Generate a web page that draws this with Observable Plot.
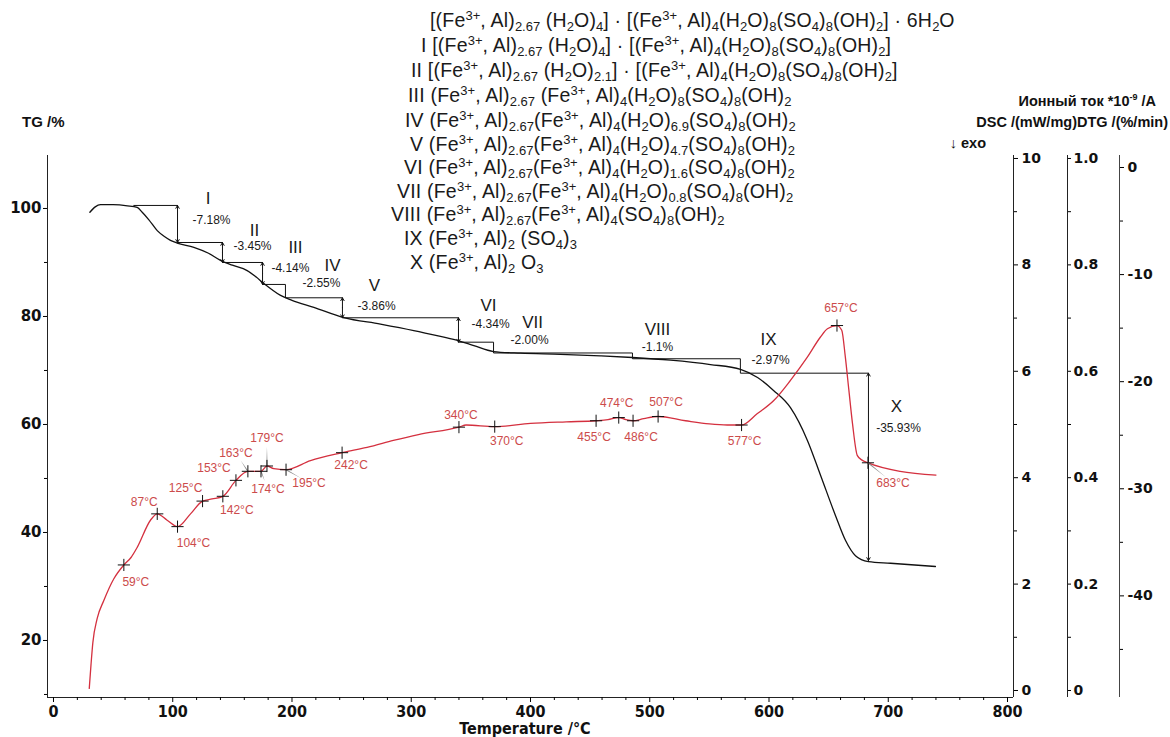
<!DOCTYPE html>
<html>
<head>
<meta charset="utf-8">
<script src="https://cdn.jsdelivr.net/npm/d3@7"></script>
<script src="https://cdn.jsdelivr.net/npm/@observablehq/plot@0.6"></script>
<style>
  body { margin: 0; background: #fff; }
  #wrap { position: relative; width: 1170px; height: 737px; overflow: hidden; font-family: "Liberation Sans", Arial, sans-serif; background:#fff; }
  #wrap svg { position: absolute; left: 0; top: 0; }
  .f { position: absolute; white-space: nowrap; font-size: 19.5px; letter-spacing: 0.2px; line-height: 22px; color: #1a1a1a; }
  .f sup, .f sub { font-size: 13px; letter-spacing: 0; line-height: 0; position: relative; vertical-align: baseline; }
  .f sup { top: -7px; }
  .f sub { top: 4px; }
  .t { position: absolute; white-space: nowrap; font-weight: bold; font-size: 14.5px; color: #111; line-height: 18px; }
  .t sup { font-size: 9px; position: relative; top: -6px; vertical-align: baseline; line-height: 0; }
</style>
</head>
<body>
<div id="wrap"></div>
<script>
// ---------------- data ----------------
// TG curve (Temperature °C, TG %)
const tgTemp = [30.5,35,39.4,50,62,70.2,74.4,80,87,93,98.1,103.7,117.7,130,140,150,162.4,170,176.4,183,190.4,200,218.3,243.4,274.2,302.1,324.5,340,352.5,369,391.6,425.2,458.7,485.5,517.4,550.9,576.1,590.4,603.8,618,632.3,643.2,655.8,664.2,672.5,683.4,701.9,739.6];
const tgValue = [99.3,100.3,100.7,100.7,100.5,100.2,99.3,97.9,95.9,94.8,94.1,93.6,92.8,91.7,90.4,89.5,88.5,87.3,86.1,85.0,83.9,83.0,81.7,79.8,78.6,77.4,76.3,75.5,74.6,73.5,73.2,73.0,72.7,72.4,71.9,71.1,70.2,68.7,66.3,63.1,57.0,50.6,43.1,38.5,35.7,34.6,34.3,33.7];

// DSC curve (Temperature °C, mW/mg)
const dscTemp = [30,31.5,33,36.6,42.2,50.6,59,65,70.2,81.3,87,95.3,104,114.9,125,133,142,153,163,174,179,184.7,195,215.5,242,251.8,263,285,306,340,346,370,400,430,455,465,474,480,486,495,507,530,550,565,577,590,604,618,632,643,649,657,661,664,667,670,674,678,683,710,740];
const dscValue = [0.004,0.050,0.090,0.135,0.169,0.210,0.236,0.250,0.269,0.320,0.332,0.320,0.308,0.332,0.356,0.360,0.365,0.395,0.412,0.412,0.422,0.417,0.415,0.432,0.447,0.452,0.457,0.470,0.481,0.495,0.499,0.496,0.502,0.505,0.507,0.509,0.513,0.509,0.507,0.511,0.515,0.507,0.501,0.499,0.499,0.520,0.545,0.583,0.626,0.664,0.680,0.686,0.677,0.627,0.564,0.502,0.442,0.433,0.428,0.412,0.405];

// DSC peak markers
const peakTemp  = [59,87,104,125,142,153,163,174,179,195,242,340,370,455,474,486,507,577,657,683];
const peakValue = [0.236,0.332,0.308,0.356,0.365,0.395,0.412,0.412,0.422,0.415,0.447,0.495,0.496,0.507,0.513,0.507,0.515,0.499,0.686,0.428];

// Mass-loss steps
const stepNames = ["I","II","III","IV","V","VI","VII","VIII","IX","X"];
const stepLoss  = ["-7.18%","-3.45%","-4.14%","-2.55%","-3.86%","-4.34%","-2.00%","-1.1%","-2.97%","-35.93%"];
const stepTemp  = [104,141.7,175.3,194.5,242.3,339.6,369,485.5,576,683.4];      // step boundary temperature
const stepLevel = [100.56,93.70,90.0,85.93,83.46,79.76,75.24,73.24,72.17,69.5,34.8]; // TG level before/after each step
const stepArrow = [true,true,true,false,true,true,false,false,false,true];
const firstLevelStart = 67;
// annotation anchors (data coordinates)
const nameTemp = [129.7,168.6,202.9,234,269.2,364.8,401.7,506.5,599.6,706.9];
const nameTG   = [101.8,95.9,92.8,89.4,85.7,82.0,78.9,77.6,75.7,63.3];
const lossTemp = [132.5,166.9,198.7,224.7,270.9,366.5,399.2,506.5,601.3,708.6];
const lossTG   = [97.9,93.1,88.9,86.1,82.0,78.5,75.6,74.3,72.0,59.4];

// Axis ticks
const xTicks = [0,100,200,300,400,500,600,700,800];
const xMinor = d3.range(0, 801, 20).filter(d => d % 100 !== 0);
const tgTicks = [20,40,60,80,100];
const tgMinor = [10,30,50,70,90];
const ionTicks = [0,2,4,6,8,10];
const ionMinor = [1,3,5,7,9];
const dscTicks = [0,0.2,0.4,0.6,0.8,1.0];
const dscMinor = [0.1,0.3,0.5,0.7,0.9];
const dtgTicks = [0,-10,-20,-30,-40];
const dtgMinor = [-5,-15,-25,-35,-45];

// Phase formulas (^{} superscript, _{} subscript)
const phaseFormulas = [
  "[(Fe^{3+}, Al)_{2.67} (H_{2}O)_{4}] · [(Fe^{3+}, Al)_{4}(H_{2}O)_{8}(SO_{4})_{8}(OH)_{2}] · 6H_{2}O",
  "I [(Fe^{3+}, Al)_{2.67} (H_{2}O)_{4}] · [(Fe^{3+}, Al)_{4}(H_{2}O)_{8}(SO_{4})_{8}(OH)_{2}]",
  "II [(Fe^{3+}, Al)_{2.67} (H_{2}O)_{2.1}] · [(Fe^{3+}, Al)_{4}(H_{2}O)_{8}(SO_{4})_{8}(OH)_{2}]",
  "III (Fe^{3+}, Al)_{2.67} (Fe^{3+}, Al)_{4}(H_{2}O)_{8}(SO_{4})_{8}(OH)_{2}",
  "IV (Fe^{3+}, Al)_{2.67}(Fe^{3+}, Al)_{4}(H_{2}O)_{6.9}(SO_{4})_{8}(OH)_{2}",
  "V (Fe^{3+}, Al)_{2.67}(Fe^{3+}, Al)_{4}(H_{2}O)_{4.7}(SO_{4})_{8}(OH)_{2}",
  "VI (Fe^{3+}, Al)_{2.67}(Fe^{3+}, Al)_{4}(H_{2}O)_{1.6}(SO_{4})_{8}(OH)_{2}",
  "VII (Fe^{3+}, Al)_{2.67}(Fe^{3+}, Al)_{4}(H_{2}O)_{0.8}(SO_{4})_{8}(OH)_{2}",
  "VIII (Fe^{3+}, Al)_{2.67}(Fe^{3+}, Al)_{4}(SO_{4})_{8}(OH)_{2}",
  "IX (Fe^{3+}, Al)_{2} (SO_{4})_{3}",
  "X (Fe^{3+}, Al)_{2} O_{3}"
];

// ---------------- layout ----------------
const W = 1170, H = 737;
const M = {top: 155, right: 157, bottom: 40, left: 47};
const xDom = [-5.03, 805.03];
const tgDom = [9.44, 109.81];
const ionDom = [-0.1316, 10.056];
const dscDom = [-0.01316, 1.0056];
const dtgDom = [-49.49, 1.12];
const dscAxisShift = 54, dtgAxisShift = 106;
const formulaLeft = [430,421,411,408,405,410,404,397,391,404,410];
const formulaMid  = [20,45,70,95,120,144,167,191,214,238,262];
const peakOffsets = [[12,17],[-13,-12],[16,17],[-17,-13],[14,14],[-22,-12],[-12,-18],[7,18],[0,-28],[23,13],[9,12],[2,-12],[12,15],[-2,16],[-2,-14],[8,16],[8,-14],[3,16],[4,-17],[25,20]];
const leaderIndex = [6,7,8,9,19];   // labels joined to their marker by a thin leader
const RED = "#d4303f", RED_LABEL = "#cc4b4b", AX = "#222";
const WIDE = "DejaVu Sans, Liberation Sans, sans-serif";
const NARROW = "Liberation Sans Narrow, Arial Narrow, DejaVu Sans Condensed, sans-serif";
const SANS = "Liberation Sans, Arial, sans-serif";

const common = extra => Object.assign({
  width: W, height: H,
  marginTop: M.top, marginRight: M.right, marginBottom: M.bottom, marginLeft: M.left,
  style: {background: "transparent", overflow: "visible"}
}, extra);

// --- TG plot (bottom layer, x axis, left axis)
const levelSegs = stepTemp.map((t, i) => ({x1: i === 0 ? firstLevelStart : stepTemp[i - 1], x2: t, y: stepLevel[i]}));
const vSegs = stepTemp.map((t, i) => ({t, a: stepLevel[i], b: stepLevel[i + 1], arrow: stepArrow[i]}));
const nameData = stepNames.map((s, i) => ({s, x: nameTemp[i], y: nameTG[i]}));
const lossData = stepLoss.map((s, i) => ({s, x: lossTemp[i], y: lossTG[i]}));

const tgPlot = Plot.plot(common({
  x: {domain: xDom},
  y: {domain: tgDom},
  marks: [
    Plot.ruleX([xDom[0]], {stroke: AX}),
    Plot.ruleX([xDom[1]], {stroke: AX}),
    Plot.ruleY([tgDom[0]], {stroke: AX}),
    Plot.axisX({ticks: xMinor, tickSize: 3, tickFormat: () => "", label: null}),
    Plot.axisX({ticks: xTicks, tickSize: 5, tickPadding: 3, tickFormat: d => String(d), fontSize: 16, fontWeight: "bold", fontFamily: NARROW, fill: "#111", label: null}),
    Plot.axisY({ticks: tgMinor, tickSize: 3, tickFormat: () => "", label: null}),
    Plot.axisY({ticks: tgTicks, tickSize: 4, tickPadding: 2, tickFormat: d => String(d), fontSize: 15, fontWeight: "bold", fontFamily: WIDE, fill: "#111", label: null}),
    Plot.link(levelSegs, {x1: "x1", x2: "x2", y1: "y", y2: "y", stroke: "#111", strokeWidth: 1}),
    Plot.link(vSegs.filter(d => !d.arrow), {x1: "t", x2: "t", y1: "a", y2: "b", stroke: "#111", strokeWidth: 1}),
    Plot.arrow(vSegs.filter(d => d.arrow), {x1: "t", x2: "t", y1: d => (d.a + d.b) / 2, y2: "a", stroke: "#111", strokeWidth: 1, headLength: 5, headAngle: 60}),
    Plot.arrow(vSegs.filter(d => d.arrow), {x1: "t", x2: "t", y1: d => (d.a + d.b) / 2, y2: "b", stroke: "#111", strokeWidth: 1, headLength: 5, headAngle: 60}),
    Plot.line(tgTemp, {x: tgTemp, y: tgValue, stroke: "#111", strokeWidth: 1.3, curve: "monotone-x"}),
    Plot.text(nameData, {x: "x", y: "y", text: "s", fontSize: 17, fontFamily: SANS, fill: "#1a1a1a"}),
    Plot.text(lossData, {x: "x", y: "y", text: "s", fontSize: 12, fontFamily: SANS, fill: "#1a1a1a"})
  ]
}));

// --- DSC plot (red curve + second right axis)
const peakData = peakTemp.map((t, i) => ({t, v: peakValue[i], s: t + "°C"}));
const leaderMarks = leaderIndex.map(i => {
  const [ox, oy] = peakOffsets[i];
  return Plot.vector([peakData[i]], {
    x: "t", y: "v", anchor: "start", shape: "spike", r: 0.6,
    length: Math.hypot(ox, oy) - 9,
    rotate: Math.atan2(ox, -oy) * 180 / Math.PI,
    fill: "#888", stroke: "none"
  });
});
const dscPlot = Plot.plot(common({
  x: {domain: xDom, axis: null},
  y: {domain: dscDom},
  marks: [
    Plot.ruleX([xDom[1]], {dx: dscAxisShift, stroke: AX}),
    Plot.axisY({anchor: "right", dx: dscAxisShift, ticks: dscMinor, tickSize: 3, tickFormat: () => "", label: null}),
    Plot.axisY({anchor: "right", dx: dscAxisShift, ticks: dscTicks, tickSize: 3, tickPadding: 3, tickFormat: d => d === 0 ? "0" : d.toFixed(1), fontSize: 14, fontWeight: "bold", fontFamily: WIDE, fill: "#111", label: null}),
    Plot.line(dscTemp, {x: dscTemp, y: dscValue, stroke: RED, strokeWidth: 1.3, curve: "monotone-x"}),
    ...leaderMarks,
    Plot.dot(peakData, {x: "t", y: "v", symbol: "plus", r: 4, stroke: "#111", strokeWidth: 1}),
    ...peakData.map((d, i) => Plot.text([d], {x: "t", y: "v", text: "s", dx: peakOffsets[i][0], dy: peakOffsets[i][1], fontSize: 12, fontFamily: SANS, fill: RED_LABEL}))
  ]
}));

// --- Ion current axis
const ionPlot = Plot.plot(common({
  x: {domain: xDom, axis: null},
  y: {domain: ionDom},
  marks: [
    Plot.axisY({anchor: "right", ticks: ionMinor, tickSize: 3, tickFormat: () => "", label: null}),
    Plot.axisY({anchor: "right", ticks: ionTicks, tickSize: 4, tickPadding: 4, tickFormat: d => String(d), fontSize: 14, fontWeight: "bold", fontFamily: WIDE, fill: "#111", label: null})
  ]
}));

// --- DTG axis
const dtgPlot = Plot.plot(common({
  x: {domain: xDom, axis: null},
  y: {domain: dtgDom},
  marks: [
    Plot.ruleX([xDom[1]], {dx: dtgAxisShift, stroke: "#444"}),
    Plot.axisY({anchor: "right", dx: dtgAxisShift, ticks: dtgMinor, tickSize: 3, tickFormat: () => "", label: null}),
    Plot.axisY({anchor: "right", dx: dtgAxisShift, ticks: dtgTicks, tickSize: 4, tickPadding: 4, tickFormat: d => String(d), fontSize: 14, fontWeight: "bold", fontFamily: WIDE, fill: "#111", label: null})
  ]
}));

const wrap = document.getElementById("wrap");
[tgPlot, ionPlot, dtgPlot, dscPlot].forEach(p => wrap.appendChild(p));

// --- formula block
const toHTML = s => s.replace(/\^\{([^}]*)\}/g, "<sup>$1</sup>").replace(/_\{([^}]*)\}/g, "<sub>$1</sub>");
phaseFormulas.forEach((s, i) => {
  const d = document.createElement("div");
  d.className = "f";
  d.style.left = formulaLeft[i] + "px";
  d.style.top = (formulaMid[i] - 11) + "px";
  d.innerHTML = toHTML(s);
  wrap.appendChild(d);
});

// --- axis titles
function title(html, css) {
  const d = document.createElement("div");
  d.className = "t";
  d.innerHTML = html;
  Object.assign(d.style, css);
  wrap.appendChild(d);
}
title("TG /%", {left: "22px", top: "113px", fontSize: "15px"});
title("Ионный ток *10<sup>-9</sup> /A", {right: (W - 1156) + "px", top: "92px"});
title("DSC /(mW/mg)DTG /(%/min)", {right: (W - 1168) + "px", top: "113px"});
title("↓ exo", {right: (W - 986) + "px", top: "134px"});
title("Temperature /°C", {left: "0px", width: (2 * 525) + "px", textAlign: "center", top: "721px", lineHeight: "15px", fontSize: "16px", fontFamily: NARROW});
</script>
</body>
</html>
